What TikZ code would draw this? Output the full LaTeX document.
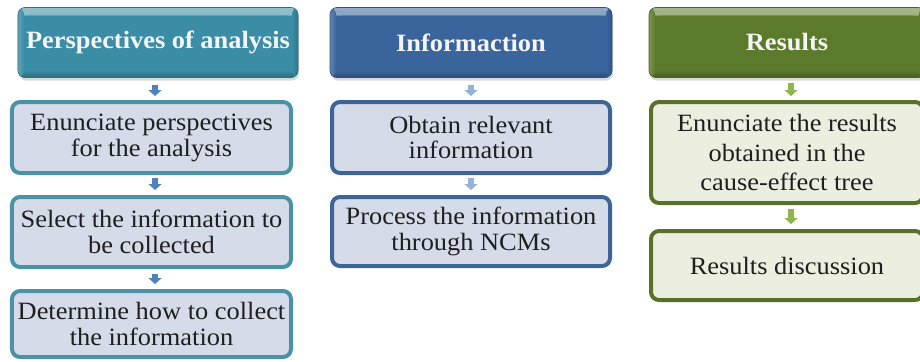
\documentclass[tikz,border=0pt]{standalone}
\usepackage{fontspec}
\setmainfont{Liberation Serif}[FakeStretch=1.06]
\usetikzlibrary{arrows.meta,shadows,calc}
\definecolor{tealH}{HTML}{3A8DA4}
\definecolor{tealB}{HTML}{2C7589}
\definecolor{tealE}{HTML}{4A93A7}
\definecolor{blueH}{HTML}{3A659C}
\definecolor{blueB}{HTML}{2D5283}
\definecolor{blueE}{HTML}{3C6596}
\definecolor{oliveH}{HTML}{5C7A2B}
\definecolor{oliveB}{HTML}{4A6421}
\definecolor{oliveE}{HTML}{58712A}
\definecolor{lavF}{HTML}{D5DBE9}
\definecolor{greenF}{HTML}{ECEFE0}
\definecolor{arrBlue}{HTML}{4F81BD}
\definecolor{arrLight}{HTML}{95B3D7}
\definecolor{arrGreen}{HTML}{8DB64B}
\begin{document}
\begin{tikzpicture}[x=1bp,y=-1bp,
  hdr/.style={rounded corners=7bp, minimum height=70bp, inner sep=0pt,
    font=\fontsize{25}{26}\selectfont\bfseries, text=white!96!black,
    fill=#1, draw=#1!80!black, line width=0.6bp,
    path picture={
      \shade[top color=#1!55!white, bottom color=#1]
        (path picture bounding box.north west) rectangle ([yshift=-8bp]path picture bounding box.north east);
      \shade[top color=#1, bottom color=#1!75!black]
        ([yshift=7bp]path picture bounding box.south west) rectangle (path picture bounding box.south east);
      \shade[left color=#1!80!white, right color=#1]
        (path picture bounding box.north west) rectangle ([xshift=6bp]path picture bounding box.south west);
      \shade[left color=#1, right color=#1!85!black]
        ([xshift=-6bp]path picture bounding box.north east) rectangle (path picture bounding box.south east);
      \fill[#1] ([xshift=6bp,yshift=-8bp]path picture bounding box.north west) rectangle ([xshift=-6bp,yshift=7bp]path picture bounding box.south east);
    },
    drop shadow={opacity=0.3, shadow xshift=1bp, shadow yshift=-3bp}},
  box/.style={rounded corners=8bp, line width=4bp, inner sep=0pt, align=center,
    font=\fontsize{25}{26}\selectfont, text=black!88},
  blk/.style={line width=6bp, -{Triangle[length=6bp,width=13bp]}},
]
\useasboundingbox (0,0) rectangle (920,361);

% left column
\node[hdr=tealH, minimum width=280bp]
  (h1) at (158,42.5) {Perspectives of analysis};
\node[box, minimum width=279bp, minimum height=71bp, draw=tealE, fill=lavF]
  (a1) at (151.5,137.5) {Enunciate perspectives\\for the analysis};
\node[box, minimum width=279bp, minimum height=70bp, draw=tealE, fill=lavF]
  (a2) at (151.5,232) {Select the information to\\be collected};
\node[box, minimum width=279bp, minimum height=66bp, draw=tealE, fill=lavF]
  (a3) at (151.5,324) {Determine how to collect\\the information};

% middle column
\node[hdr=blueH, minimum width=282bp]
  (h2) at (471,42.5) {Informaction};
\node[box, minimum width=278bp, minimum height=71bp, draw=blueE, fill=lavF]
  (m1) at (471,137.5) {Obtain relevant\\information};
\node[box, minimum width=278bp, minimum height=69bp, draw=blueE, fill=lavF]
  (m2) at (471,231.5) {Process the information\\through NCMs};

% right column
\node[hdr=oliveH, minimum width=276bp]
  (h3) at (787,42.5) {Results};
\node[box, minimum width=272bp, minimum height=101bp, draw=oliveE, fill=greenF,
  font=\fontsize{25}{29.5}\selectfont]
  (r1) at (787,152.5) {Enunciate the results\\obtained in the\\cause-effect tree};
\node[box, minimum width=272bp, minimum height=69bp, draw=oliveE, fill=greenF]
  (r2) at (787,265.5) {Results discussion};

% arrows
\draw[blk, arrBlue, shorten <=7bp, shorten >=4bp] ([xshift=3.5bp]a1.north |- h1.south) -- ([xshift=3.5bp]a1.north);
\draw[blk, arrBlue, shorten <=3bp, shorten >=5bp] ([xshift=3.5bp]a1.south) -- ([xshift=3.5bp]a2.north);
\draw[blk, arrBlue, shorten <=5bp, shorten >=5bp] ([xshift=3.5bp]a2.south) -- ([xshift=3.5bp]a3.north);
\draw[blk, arrLight, shorten <=7bp, shorten >=4bp] (h2.south) -- (m1.north);
\draw[blk, arrLight, shorten <=3bp, shorten >=5bp] (m1.south) -- (m2.north);
\draw[blk, arrGreen, shorten <=5bp, shorten >=4bp] ([xshift=4bp]h3.south) -- ([xshift=4bp]r1.north);
\draw[blk, arrGreen, shorten <=4bp, shorten >=5bp] ([xshift=4bp]r1.south) -- ([xshift=4bp]r2.north);
\end{tikzpicture}
\end{document}
